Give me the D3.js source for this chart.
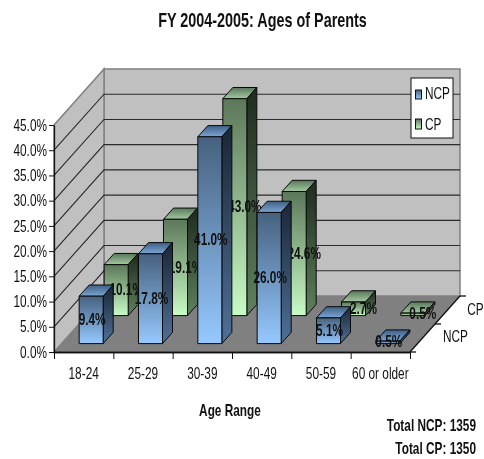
<!DOCTYPE html>
<html><head><meta charset="utf-8">
<script src="https://cdnjs.cloudflare.com/ajax/libs/d3/7.8.5/d3.min.js"></script>
<style>
html,body{margin:0;padding:0;background:#fff}
svg{display:block;filter:blur(.35px)}
text{font-family:"Liberation Sans",Arial,sans-serif;fill:#111}
</style></head><body><svg id="c" width="484" height="459"></svg>
<script>
const categories = ["18-24","25-29","30-39","40-49","50-59","60 or older"];
const seriesNames = ["NCP","CP"];
const ncpValues = [9.4,17.8,41.0,26.0,5.1,0.5];
const cpValues = [10.1,19.1,43.0,24.6,2.7,0.5];
const yTicks = [0,5,10,15,20,25,30,35,40,45];
const titleText = "FY 2004-2005: Ages of Parents";
const xTitle = "Age Range";
const notes = ["Total NCP: 1359","Total CP: 1350"];

const svg = d3.select("#c");
const X0=54, X1=410, Y0=352, DX=50, DY=-56, BOLD=700, FS=16, SQUEEZE=.74;
const x = d3.scaleBand().domain(categories).range([X0,X1]).paddingInner(.595).paddingOuter(.2975);
const xEdge = d3.scaleLinear().domain([0,categories.length]).range([X0,X1]);
const y = d3.scaleLinear().domain([0,45]).range([Y0,125]);
const z = d3.scaleBand().domain(seriesNames).range([0,1]).paddingInner(.6).paddingOuter(.3);
const P = (px,py,d)=>[px+DX*d, py+DY*d];
const poly = pts => "M"+pts.map(p=>p.join(",")).join("L")+"Z";

const defs = svg.append("defs");
function grad(id,c1,c2){
  const g=defs.append("linearGradient").attr("id",id).attr("x1",0).attr("y1",0).attr("x2",0).attr("y2",1);
  g.append("stop").attr("offset",0).attr("stop-color",c1);
  g.append("stop").attr("offset",1).attr("stop-color",c2);
}
grad("nf","#46617f","#96c9ff"); grad("ns","#1a2635","#4f7198"); grad("nt","#3f5f86","#7ca6d3");
grad("cf","#5c775a","#c8fcc5"); grad("cs","#1e2a1d","#5f815d"); grad("ct","#58785a","#a4c9a1");

// walls and floor
svg.append("path").attr("d",poly([P(X0,y(45),1),P(X1,y(45),1),P(X1,Y0,1),P(X0,Y0,1)])).attr("fill","#c0c0c0").attr("stroke","#808080").attr("stroke-width",1.5);
svg.append("path").attr("d",poly([P(X0,y(45),0),P(X0,y(45),1),P(X0,Y0,1),P(X0,Y0,0)])).attr("fill","#c0c0c0").attr("stroke","#808080").attr("stroke-width",1.5);
svg.append("path").attr("d",poly([P(X0,Y0,0),P(X0,Y0,1),P(X1,Y0,1),P(X1,Y0,0)])).attr("fill","#808080");

// gridlines
const grid = svg.append("g").attr("fill","none").attr("stroke","#2a2a2a").attr("stroke-width",1.1);
yTicks.slice(1,-1).forEach(t=>{
  grid.append("path").attr("d","M"+[P(X0,y(t),0),P(X0,y(t),1),P(X1,y(t),1)].map(p=>p.join(",")).join("L"));
});

function bars(name,values,fp,labelDx){
  const d0=z(name), d1=d0+z.bandwidth();
  const g=svg.append("g").attr("stroke","#0a0a0a").attr("stroke-width",1);
  categories.forEach((c,i)=>{
    const l=x(c), r=l+x.bandwidth(), t=y(values[i]);
    g.append("path").attr("d",poly([P(l,t,d0),P(l,t,d1),P(r,t,d1),P(r,t,d0)])).attr("fill",`url(#${fp}t)`);
    g.append("path").attr("d",poly([P(r,t,d0),P(r,t,d1),P(r,Y0,d1),P(r,Y0,d0)])).attr("fill",`url(#${fp}s)`);
    g.append("path").attr("d",poly([P(l,t,d0),P(r,t,d0),P(r,Y0,d0),P(l,Y0,d0)])).attr("fill",`url(#${fp}f)`);
  });
  const lab=svg.append("g");
  categories.forEach((c,i)=>{
    const mid=P(x(c)+x.bandwidth()/2,(y(values[i])+Y0)/2,d0);
    lab.append("text").attr("x",mid[0]+labelDx).attr("y",mid[1]).attr("dy","0.32em")
      .attr("text-anchor","middle").attr("font-size",FS).attr("font-weight",BOLD)
      .text(values[i].toFixed(1)+"%");
  });
}
bars("CP",cpValues,"c",10);
bars("NCP",ncpValues,"n",1);

// axes
const yAxis = svg.append("g").attr("transform",`translate(${X0},0)`)
  .call(d3.axisLeft(y).tickValues(yTicks).tickSize(5).tickSizeOuter(0).tickPadding(2).tickFormat(d=>d.toFixed(1)+"%"));
const xAxis = svg.append("g").attr("transform",`translate(0,${Y0})`)
  .call(d3.axisBottom(x).tickSize(0).tickPadding(16));
xAxis.selectAll(".tick line").remove();
svg.append("g").attr("transform",`translate(0,${Y0})`)
  .call(d3.axisBottom(xEdge).ticks(categories.length).tickSize(7).tickSizeOuter(0).tickFormat(""));
[yAxis,xAxis].forEach(a=>{a.selectAll("text").attr("font-size",FS).attr("fill","#1a1a1a").style("font-family",'"Liberation Sans",Arial,sans-serif');});
svg.selectAll(".domain").attr("stroke","#111").attr("stroke-width",1.3);
svg.selectAll(".tick line").attr("stroke","#111");

// depth axis
const depth = svg.append("g").attr("stroke","#111").attr("stroke-width",1.3);
const da=P(X1,Y0,0), db=P(X1,Y0,1);
depth.append("line").attr("x1",da[0]).attr("y1",da[1]).attr("x2",db[0]).attr("y2",db[1]);
[0,.5,1].forEach(d=>{const p=P(X1,Y0,d);depth.append("line").attr("x1",p[0]).attr("y1",p[1]).attr("x2",p[0]+6).attr("y2",p[1]);});
seriesNames.forEach(n=>{
  const p=P(X1,Y0,z(n)+z.bandwidth()/2);
  svg.append("text").attr("x",p[0]+(n==="NCP"?33:28)).attr("y",p[1]+(n==="NCP"?-2:-1)).attr("dy","0.36em").attr("text-anchor","middle").attr("font-size",FS).attr("fill","#1a1a1a").text(n);
});

// legend
const leg=svg.append("g").attr("transform","translate(411,78)");
leg.append("rect").attr("width",42).attr("height",60).attr("fill","#fff").attr("stroke","#111");
seriesNames.forEach((n,i)=>{
  const g=leg.append("g").attr("transform",`translate(0,${i?41:12})`);
  g.append("rect").attr("x",4.5).attr("width",6).attr("height",i?10:9).attr("fill",`url(#${i?"c":"n"}f)`).attr("stroke","#111");
  g.append("text").attr("x",14).attr("y",i?5:3).attr("dy","0.36em").attr("font-size",FS).text(n);
});

// titles
svg.append("text").attr("x",262.5).attr("y",20).attr("dy","0.36em").attr("text-anchor","middle").attr("font-size",20).attr("font-weight",BOLD).attr("data-sq",.72).text(titleText);
svg.append("text").attr("x",230).attr("y",410).attr("dy","0.36em").attr("text-anchor","middle").attr("font-size",FS).attr("font-weight",BOLD).text(xTitle);
notes.forEach((t,i)=>svg.append("text").attr("x",476).attr("y",425+23*i).attr("dy","0.36em").attr("text-anchor","end").attr("font-size",FS).attr("font-weight",BOLD).text(t));

// squeeze all text horizontally around its anchor to the reference's narrow face
svg.selectAll("text").each(function(){
  const t=d3.select(this), ax=+t.attr("x")||0, s=+t.attr("data-sq")||SQUEEZE;
  t.attr("transform",`translate(${ax},0) scale(${s},1) translate(${-ax},0)`);
});
</script></body></html>
